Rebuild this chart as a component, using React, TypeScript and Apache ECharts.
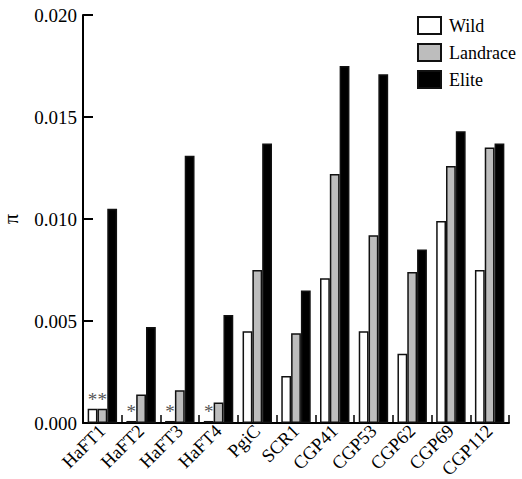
import React, { useEffect, useRef } from "react";
import * as echarts from "echarts";

const categories = ["HaFT1", "HaFT2", "HaFT3", "HaFT4", "PgiC", "SCR1", "CGP41", "CGP53", "CGP62", "CGP69", "CGP112"];
const wild = [0.0007, 0.0001, 0.0001, 0.0001, 0.0045, 0.0023, 0.0071, 0.0045, 0.0034, 0.0099, 0.0075];
const landrace = [0.0007, 0.0014, 0.0016, 0.001, 0.0075, 0.0044, 0.0122, 0.0092, 0.0074, 0.0126, 0.0135];
const elite = [0.0105, 0.0047, 0.0131, 0.0053, 0.0137, 0.0065, 0.0175, 0.0171, 0.0085, 0.0143, 0.0137];
const wildStar = [true, true, true, true, false, false, false, false, false, false, false];
const landraceStar = [true, false, false, false, false, false, false, false, false, false, false];
const yTicks = { min: 0, max: 0.02, interval: 0.005 };

const FONT = "'Liberation Serif', 'Times New Roman', serif";

function withStars(values: number[], stars: boolean[]) {
  return values.map((v, i) =>
    stars[i]
      ? { value: v, label: { show: true, position: "top", distance: 0, formatter: "*", color: "#555", fontSize: 19, fontFamily: FONT } }
      : v
  );
}

export default function App() {
  const ref = useRef<HTMLDivElement>(null);
  useEffect(() => {
    document.body.style.margin = "0";
    if (!ref.current) return;
    const chart = echarts.init(ref.current, undefined, { renderer: "svg" });
    const border = { borderColor: "#111", borderWidth: 1.5 };
    chart.setOption({
      animation: false,
      backgroundColor: "#fff",
      grid: { left: 83, right: 13, top: 15, bottom: 56, containLabel: false, outerBoundsMode: "none" },
      legend: {
        orient: "vertical",
        left: 417,
        top: 16,
        padding: 0,
        itemWidth: 23,
        itemHeight: 17,
        itemGap: 8,
        icon: "rect",
        textStyle: { fontFamily: FONT, fontSize: 18, color: "#000", padding: [0, 0, 0, 3] },
        data: ["Wild", "Landrace", "Elite"],
      },
      xAxis: {
        type: "category",
        data: categories,
        axisLine: { lineStyle: { color: "#000", width: 2 } },
        axisTick: { show: true, inside: true, length: 8, lineStyle: { color: "#000", width: 1.5 } },
        axisLabel: { rotate: 45, fontFamily: FONT, fontSize: 18.5, color: "#000", margin: 5, interval: 0 },
      },
      yAxis: {
        type: "value",
        min: yTicks.min,
        max: yTicks.max,
        interval: yTicks.interval,
        name: "π",
        nameLocation: "middle",
        nameGap: 62,
        nameRotate: 90,
        nameTextStyle: { fontFamily: FONT, fontSize: 20, color: "#000" },
        axisLine: { show: true, lineStyle: { color: "#000", width: 2 } },
        axisTick: { show: true, inside: true, length: 10, lineStyle: { color: "#000", width: 2 } },
        axisLabel: { formatter: (v: number) => v.toFixed(3), fontFamily: FONT, fontSize: 19, color: "#000", margin: 6 },
        splitLine: { show: false },
      },
      series: [
        { name: "Wild", type: "bar", data: withStars(wild, wildStar), barGap: "0%", barCategoryGap: "24%", itemStyle: { color: "#fff", ...border } },
        { name: "Landrace", type: "bar", data: withStars(landrace, landraceStar), barGap: "0%", barCategoryGap: "24%", itemStyle: { color: "#bdbdbd", ...border } },
        { name: "Elite", type: "bar", data: elite, barGap: "0%", barCategoryGap: "24%", itemStyle: { color: "#000", ...border } },
      ],
    });
    return () => chart.dispose();
  }, []);
  return <div ref={ref} style={{ width: 522, height: 479 }} />;
}
